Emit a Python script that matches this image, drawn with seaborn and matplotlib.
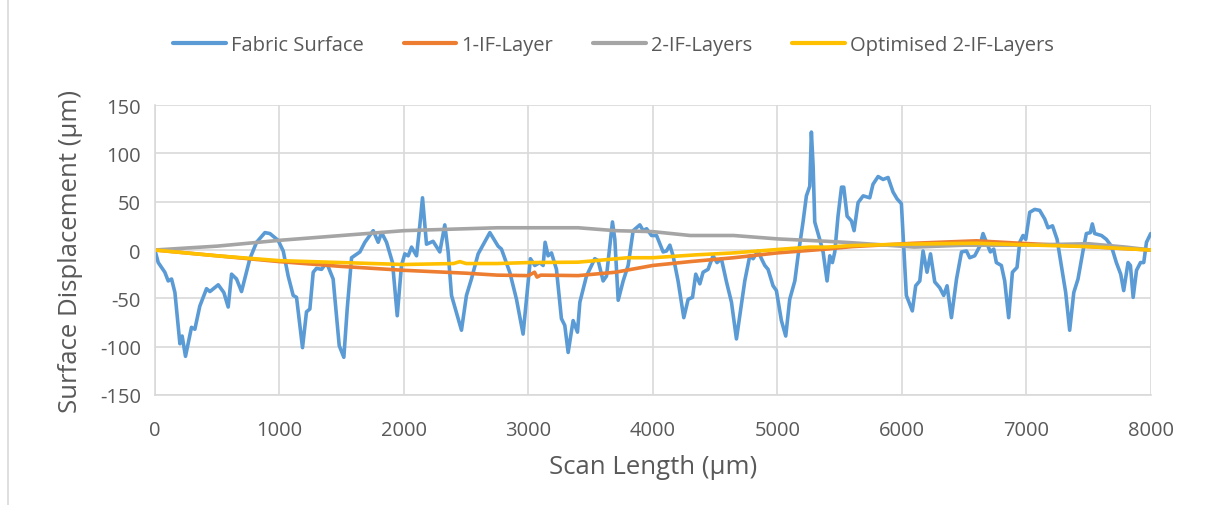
import matplotlib
matplotlib.use("Agg")
import matplotlib.pyplot as plt
import seaborn as sns
import pandas as pd

# ---- data ----
series_names = ["Fabric Surface", "1-IF-Layer", "2-IF-Layers", "Optimised 2-IF-Layers"]
colors = ["#5B9BD5", "#ED7D31", "#A5A5A5", "#FFC000"]

fabric_x = [0,27,80,107,134,161,201,219,246,294,
            321,361,415,442,509,554,589,616,656,696,
            763,817,884,924,990,1031,1071,1111,1138,1186,
            1218,1245,1272,1298,1339,1379,1432,1481,1518,1545,
            1580,1647,1687,1754,1794,1821,1861,1909,1947,1981,
            2008,2035,2062,2102,2128,2150,2169,2182,2235,2289,
            2329,2356,2383,2463,2503,2543,2597,2691,2757,2784,
            2851,2905,2958,2985,3017,3052,3092,3119,3135,3159,
            3186,3226,3266,3293,3320,3360,3395,3414,3467,3534,
            3561,3601,3628,3655,3676,3695,3722,3762,3802,3842,
            3896,3923,3950,3990,4030,4083,4110,4137,4163,4203,
            4249,4284,4319,4345,4378,4404,4444,4484,4516,4551,
            4592,4632,4672,4699,4739,4779,4806,4846,4873,4900,
            4926,4966,4993,5033,5068,5100,5141,5167,5207,5234,
            5261,5274,5288,5301,5341,5368,5400,5422,5443,5462,
            5488,5516,5534,5561,5596,5617,5649,5690,5743,5769,
            5810,5850,5890,5930,5962,5997,6037,6085,6112,6145,
            6171,6203,6231,6265,6305,6337,6364,6399,6440,6480,
            6520,6546,6586,6627,6653,6680,6712,6739,6760,6800,
            6827,6859,6889,6926,6948,6974,6996,7028,7068,7108,
            7149,7175,7211,7248,7282,7317,7349,7382,7416,7456,
            7483,7515,7531,7550,7604,7644,7684,7724,7759,7783,
            7818,7837,7859,7886,7918,7944,7966,8000]
fabric_y = [0,-13,-23,-32,-30,-44,-97,-89,-110,-80,
            -82,-58,-40,-43,-36,-44,-59,-25,-30,-43,
            -9,8,18,17,10,-1,-27,-47,-49,-101,
            -64,-61,-23,-19,-20,-13,-30,-99,-111,-61,
            -8,-2,8,20,8,18,8,-13,-68,-16,
            -4,-6,3,-6,25,54,25,6,9,-2,
            26,-2,-47,-83,-47,-30,-4,18,4,1,
            -23,-51,-87,-51,-9,-16,-13,-16,8,-6,
            -3,-20,-71,-78,-106,-73,-85,-54,-27,-9,
            -11,-32,-27,4,29,11,-52,-32,-16,20,
            26,20,22,15,15,-2,-1,5,-6,-32,
            -70,-51,-49,-25,-35,-23,-20,-6,-13,-9,
            -33,-54,-92,-68,-32,-6,-9,-1,-9,-16,
            -20,-37,-42,-73,-89,-51,-32,-6,29,56,
            66,122,87,29,11,-2,-32,-6,-13,-2,
            35,65,65,35,30,20,49,56,54,68,
            76,73,75,60,53,48,-47,-63,-37,-32,
            -1,-23,-4,-33,-39,-47,-37,-70,-30,-2,
            -1,-8,-6,4,17,8,-2,1,-13,-16,
            -32,-70,-23,-18,8,15,11,39,42,41,
            32,23,25,11,-16,-44,-83,-44,-30,-1,
            17,18,27,17,15,11,4,-13,-25,-42,
            -13,-16,-49,-21,-13,-13,8,17]

one_x = [0,500,1000,1500,2000,2500,2750,3000,3050,3070,3100,3400,3700,4000,4300,4650,5000,5400,5600,6100,6600,6950,7500,8000]
one_y = [0,-6,-12,-17,-21,-24,-26,-26.5,-23,-28,-26,-26.5,-23,-16,-12,-8,-3,1,3.5,7,9.5,7,3.5,0]

two_x = [0,500,1000,1500,2000,2500,2750,3000,3400,3700,4000,4300,4650,5000,5400,5600,6100,6500,6950,7500,7800,8000]
two_y = [0,4,10,15,20,22,23,23,23,20,19,15,15,11.5,9,7.5,3,5,5,6.5,3,0]

opt_x = [0,500,1000,1500,2000,2400,2450,2500,2750,3000,3400,3800,4000,4350,4650,5000,5260,5400,5600,6000,6600,6950,7500,8000]
opt_y = [0,-6,-11,-13,-15,-14,-12,-14,-14,-13,-12.6,-8,-8,-5,-3,0.5,3,3,4.6,6,7,5.5,3.5,0]

x_ticks = [0,1000,2000,3000,4000,5000,6000,7000,8000]
y_ticks = [-150,-100,-50,0,50,100,150]
x_label = "Scan Length (µm)"
y_label = "Surface Displacement (µm)"

# ---- build long table ----
frames = []
for name, xs, ys in zip(series_names,
                        [fabric_x, one_x, two_x, opt_x],
                        [fabric_y, one_y, two_y, opt_y]):
    frames.append(pd.DataFrame({"x": xs, "y": ys, "series": name}))
df = pd.concat(frames, ignore_index=True)

sns.set_theme(style="white")
plt.rcParams["font.family"] = ["Open Sans", "DejaVu Sans"]
plt.rcParams["axes.unicode_minus"] = False

fig = plt.figure(figsize=(12.1, 5.06), dpi=100)
ax = fig.add_axes([0.128, 0.2174, 0.823, 0.5731])

sns.lineplot(data=df, x="x", y="y", hue="series", hue_order=series_names,
             palette=colors, estimator=None, sort=False, linewidth=2.6,
             solid_capstyle="round", solid_joinstyle="round", ax=ax)

ax.set_xlim(0, 8000)
ax.set_ylim(-150, 150)
ax.set_xticks(x_ticks)
ax.set_yticks(y_ticks)
ax.grid(True, color="#D9D9D9", linewidth=1.2)
ax.set_axisbelow(True)
for side in ["top", "right"]:
    ax.spines[side].set_visible(False)
for side in ["left", "bottom"]:
    ax.spines[side].set_color("#D9D9D9")
    ax.spines[side].set_linewidth(1.2)
ax.tick_params(axis="both", length=0, labelsize=14.5, colors="#595959")
ax.tick_params(axis="x", pad=18)
ax.tick_params(axis="y", pad=10)
ax.set_xlabel(x_label, fontsize=18.5, color="#595959", labelpad=10)
ax.set_ylabel(y_label, fontsize=18.5, color="#595959", labelpad=12)

sns.move_legend(ax, "center", bbox_to_anchor=(0.507, 0.909),
                bbox_transform=fig.transFigure, ncol=4, frameon=False,
                title=None, fontsize=14.5, handlelength=2.6, columnspacing=2.0,
                handletextpad=0.25)
leg = ax.get_legend()
for t in leg.get_texts():
    t.set_color("#595959")
for l in leg.get_lines():
    l.set_linewidth(3)

# chart-area border on the left edge
fig.add_artist(plt.Line2D([0.0066, 0.0066], [0.0, 1.0], transform=fig.transFigure,
                          color="#D9D9D9", linewidth=1.2))

fig.savefig("out.png", dpi=100)
